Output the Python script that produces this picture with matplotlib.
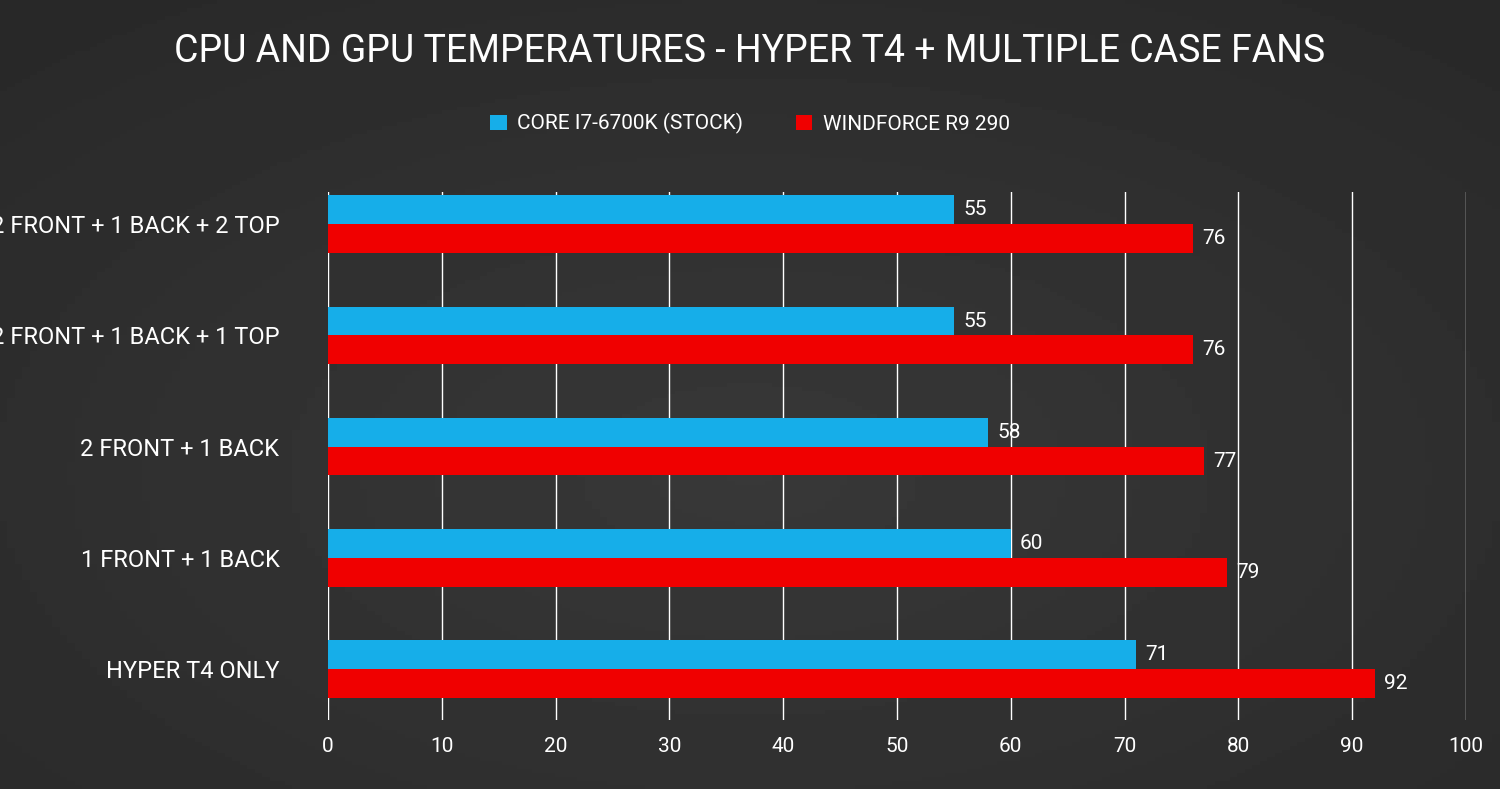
import matplotlib
matplotlib.use("Agg")
import matplotlib.pyplot as plt
import numpy as np
from matplotlib import font_manager

categories = ["2 FRONT + 1 BACK + 2 TOP", "2 FRONT + 1 BACK + 1 TOP", "2 FRONT + 1 BACK",
              "1 FRONT + 1 BACK", "HYPER T4 ONLY"]
cpu = [55, 55, 58, 60, 71]
gpu = [76, 76, 77, 79, 92]
series_names = ["CORE I7-6700K (STOCK)", "WINDFORCE R9 290"]
xticks = list(range(0, 101, 10))

avail = {f.name for f in font_manager.fontManager.ttflist}
fam = next((f for f in ["Liberation Sans Narrow", "DejaVu Sans Condensed", "Roboto", "DejaVu Sans"] if f in avail), "DejaVu Sans")
plt.rcParams["font.family"] = fam

fig = plt.figure(figsize=(15, 7.89), dpi=100)
bg = fig.add_axes([0, 0, 1, 1])
yy, xx = np.mgrid[0:1:200j, 0:1:200j]
grad = 0.22 - 0.08 * np.sqrt((xx - 0.5) ** 2 + (yy - 0.6) ** 2)
bg.imshow(grad, cmap="gray", vmin=0, vmax=1, aspect="auto", extent=[0, 1, 0, 1])
bg.axis("off")

ax = fig.add_axes([0.2187, 0.0875, 0.7586, 0.669])
ax.set_facecolor("none")
n = len(categories)
y = np.arange(n)
h = 0.26
blue = "#16aee9"
red = "#f00000"
b1 = ax.barh(y - h / 2, cpu, height=h, color=blue, label=series_names[0], zorder=3)
b2 = ax.barh(y + h / 2, gpu, height=h, color=red, label=series_names[1], zorder=3)
for bars, vals in ((b1, cpu), (b2, gpu)):
    for r, v in zip(bars, vals):
        ax.text(v + 0.8, r.get_y() + r.get_height() / 2, str(v), color="white",
                fontsize=15, va="center", ha="left", zorder=4)
ax.set_xlim(0, 100)
ax.set_ylim(4.46, -0.29)
ax.set_xticks(xticks)
ax.set_xticklabels([str(t) for t in xticks], color="white", fontsize=15)
ax.set_yticks(y)
ax.set_yticklabels(categories, color="white", fontsize=17)
ax.tick_params(length=0, pad=12)
ax.tick_params(axis="y", pad=35)
ax.grid(axis="x", color="white", linewidth=1, zorder=0)
for s in ax.spines.values():
    s.set_visible(False)

fig.text(0.5, 0.935, "CPU AND GPU TEMPERATURES - HYPER T4 + MULTIPLE CASE FANS",
         color="white", fontsize=27, ha="center", va="center")
fig.legend(handles=[b1, b2], labels=series_names, loc="center", bbox_to_anchor=(0.5, 0.843),
           ncol=2, frameon=False, fontsize=15, labelcolor="white", handlelength=0.8,
           handleheight=0.8, columnspacing=2.5, handletextpad=0.5)
fig.savefig("out.png", dpi=100)
